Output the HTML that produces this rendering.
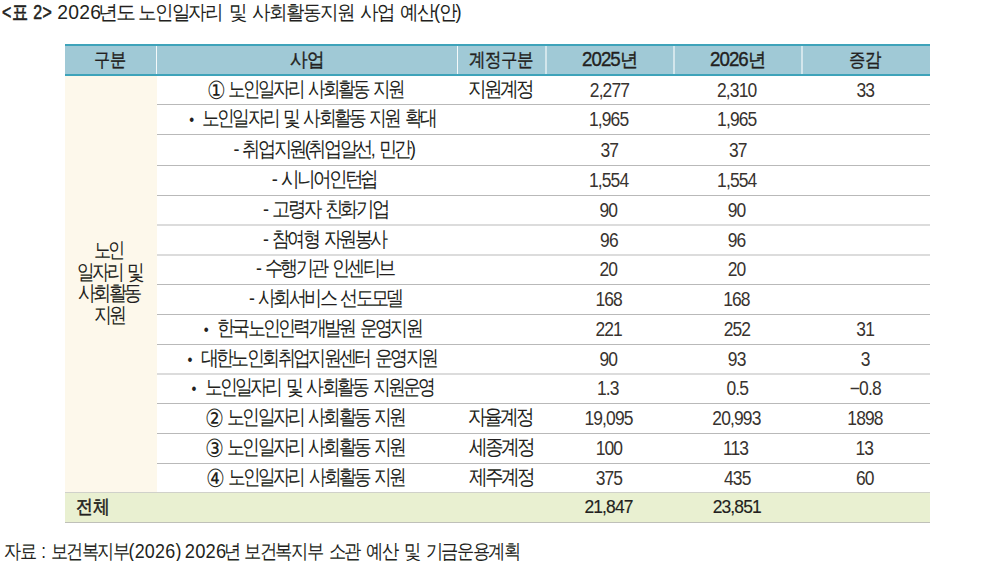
<!DOCTYPE html>
<html><head><meta charset="utf-8">
<style>
html,body{margin:0;padding:0;background:#fff;width:1000px;height:561px;overflow:hidden;position:relative;}
body{font-family:"Liberation Sans",sans-serif;color:#231f20;}
.a{position:absolute;}
.t{position:absolute;white-space:nowrap;height:30px;line-height:30px;}
.t span{display:inline-block;transform-origin:0 50%;letter-spacing:-0.9px;word-spacing:2px;}
.hl{position:absolute;height:1px;background:#b9b9b9;}
</style></head><body>

<div class="a" style="left:65px;top:44px;width:865px;height:32px;background:#a0c9d6"></div>
<div class="a" style="left:65px;top:44px;width:865px;height:2px;background:#3ea3ba"></div>
<div class="a" style="left:65px;top:74px;width:865px;height:2px;background:#3ea3ba"></div>
<div class="a" style="left:156px;top:46px;width:1px;height:28px;background:#f4f9fa"></div>
<div class="a" style="left:457px;top:46px;width:1px;height:28px;background:#f4f9fa"></div>
<div class="a" style="left:545px;top:46px;width:2px;height:28px;background:#d3e6ec"></div>
<div class="a" style="left:673px;top:46px;width:2px;height:28px;background:#d3e6ec"></div>
<div class="a" style="left:801px;top:46px;width:2px;height:28px;background:#d3e6ec"></div>
<div class="a" style="left:65px;top:76px;width:92px;height:416px;background:#fdf8eb"></div>
<div class="hl" style="left:157px;top:104px;width:773px;background:#b9b9b9"></div>
<div class="hl" style="left:157px;top:134px;width:773px;background:#b9b9b9"></div>
<div class="hl" style="left:157px;top:165px;width:773px;background:#b9b9b9"></div>
<div class="hl" style="left:157px;top:195px;width:773px;background:#b9b9b9"></div>
<div class="hl" style="left:157px;top:224px;width:773px;background:#dcdcdc"></div>
<div class="hl" style="left:157px;top:225px;width:773px;background:#dcdcdc"></div>
<div class="hl" style="left:157px;top:254px;width:773px;background:#dcdcdc"></div>
<div class="hl" style="left:157px;top:255px;width:773px;background:#dcdcdc"></div>
<div class="hl" style="left:157px;top:284px;width:773px;background:#b9b9b9"></div>
<div class="hl" style="left:157px;top:314px;width:773px;background:#b9b9b9"></div>
<div class="hl" style="left:157px;top:344px;width:773px;background:#b9b9b9"></div>
<div class="hl" style="left:157px;top:373px;width:773px;background:#dcdcdc"></div>
<div class="hl" style="left:157px;top:374px;width:773px;background:#dcdcdc"></div>
<div class="hl" style="left:157px;top:403px;width:773px;background:#b9b9b9"></div>
<div class="hl" style="left:157px;top:433px;width:773px;background:#b9b9b9"></div>
<div class="hl" style="left:157px;top:463px;width:773px;background:#b9b9b9"></div>
<div class="a" style="left:65px;top:492px;width:865px;height:31px;background:#e9f0d1"></div>
<div class="hl" style="left:65px;top:492px;width:865px;background:#d0d1ca"></div>
<div class="hl" style="left:65px;top:522px;width:865px;background:#bfc0b9"></div>
<div class="t" style="left:2.50px;top:-1.70px;font-size:19px"><span style="-webkit-text-stroke:0.55px #231f20;word-spacing:1px;letter-spacing:0.300px;transform:translateX(-0.96px) scale(0.8388,1.04)">&lt;표 2&gt;</span></div>
<div class="t" style="left:58.10px;top:-1.70px;font-size:19px"><span style="letter-spacing:0.200px;transform:translateX(-0.65px) scale(1.0155,1.04)">2026</span></div>
<div class="t" style="left:101.30px;top:-1.70px;font-size:19px"><span style="word-spacing:3px;letter-spacing:-1.500px;transform:translateX(-3.10px) scale(1.0425,1.04)">년도</span></div>
<div class="t" style="left:139.70px;top:-1.70px;font-size:19px"><span style="word-spacing:3px;letter-spacing:-1.500px;transform:translateX(-2.13px) scale(0.9641,1.04)">노인일자리 및 사회활동지원 사업 예산(안)</span></div>
<div class="t" style="left:95.30px;top:44.50px;font-size:18px"><span style="-webkit-text-stroke:0.35px #231f20;letter-spacing:-0.900px;transform:translateX(-0.84px) scale(0.9193,1.08)">구분</span></div>
<div class="t" style="left:290.90px;top:44.50px;font-size:18px"><span style="-webkit-text-stroke:0.35px #231f20;letter-spacing:-0.900px;transform:translateX(-1.47px) scale(1.0037,1.08)">사업</span></div>
<div class="t" style="left:470.10px;top:44.50px;font-size:18px"><span style="-webkit-text-stroke:0.35px #231f20;letter-spacing:-0.900px;transform:translateX(-0.55px) scale(0.9362,1.08)">계정구분</span></div>
<div class="t" style="left:583.00px;top:44.50px;font-size:18px"><span style="-webkit-text-stroke:0.35px #231f20;letter-spacing:-0.900px;transform:translateX(-1.04px) scale(1.0392,1.08)">2025년</span></div>
<div class="t" style="left:711.00px;top:44.50px;font-size:18px"><span style="-webkit-text-stroke:0.35px #231f20;letter-spacing:-0.900px;transform:translateX(-1.04px) scale(1.0392,1.08)">2026년</span></div>
<div class="t" style="left:850.00px;top:44.50px;font-size:18px"><span style="-webkit-text-stroke:0.35px #231f20;letter-spacing:-0.900px;transform:translateX(-0.93px) scale(0.9314,1.08)">증감</span></div>
<div class="t" style="left:208.40px;top:73.75px;font-size:20px"><span style="word-spacing:3px;letter-spacing:-2.600px;transform:translateX(-1.44px) scale(0.8602,1.03)"><i style='font-style:normal;font-size:24px;vertical-align:-3px'>①</i> 노인일자리 사회활동 지원</span></div>
<div class="t" style="left:190.00px;top:103.00px;font-size:20px"><span style="word-spacing:3px;letter-spacing:-2.600px;transform:translateX(-0.87px) scale(0.8704,1.03)"><small style='font-size:16px;vertical-align:0px'>•</small>&nbsp;&nbsp;노인일자리 및 사회활동 지원 확대</span></div>
<div class="t" style="left:234.60px;top:133.50px;font-size:20px"><span style="word-spacing:3px;letter-spacing:-2.600px;transform:translateX(-1.47px) scale(0.8952,1.03)">- 취업지원(취업알선, 민간)</span></div>
<div class="t" style="left:272.40px;top:164.00px;font-size:20px"><span style="word-spacing:3px;letter-spacing:-2.600px;transform:translateX(-0.31px) scale(0.9147,1.03)">- 시니어인턴쉽</span></div>
<div class="t" style="left:264.00px;top:193.75px;font-size:20px"><span style="word-spacing:3px;letter-spacing:-2.600px;transform:translateX(-0.90px) scale(0.9031,1.03)">- 고령자 친화기업</span></div>
<div class="t" style="left:264.00px;top:223.50px;font-size:20px"><span style="word-spacing:3px;letter-spacing:-2.600px;transform:translateX(-0.89px) scale(0.8888,1.03)">- 참여형 자원봉사</span></div>
<div class="t" style="left:257.00px;top:253.25px;font-size:20px"><span style="word-spacing:3px;letter-spacing:-2.600px;transform:translateX(-0.89px) scale(0.8871,1.03)">- 수행기관 인센티브</span></div>
<div class="t" style="left:250.00px;top:283.00px;font-size:20px"><span style="word-spacing:3px;letter-spacing:-2.600px;transform:translateX(-0.88px) scale(0.8847,1.03)">- 사회서비스 선도모델</span></div>
<div class="t" style="left:205.20px;top:313.00px;font-size:20px"><span style="word-spacing:3px;letter-spacing:-2.600px;transform:translateX(-1.14px) scale(0.8788,1.03)"><small style='font-size:16px;vertical-align:0px'>•</small>&nbsp;&nbsp;한국노인인력개발원 운영지원</span></div>
<div class="t" style="left:188.40px;top:342.75px;font-size:20px"><span style="word-spacing:3px;letter-spacing:-2.600px;transform:translateX(-0.40px) scale(0.8823,1.03)"><small style='font-size:16px;vertical-align:0px'>•</small>&nbsp;&nbsp;대한노인회취업지원센터 운영지원</span></div>
<div class="t" style="left:192.60px;top:372.25px;font-size:20px"><span style="word-spacing:3px;letter-spacing:-2.600px;transform:translateX(-1.51px) scale(0.8755,1.03)"><small style='font-size:16px;vertical-align:0px'>•</small>&nbsp;&nbsp;노인일자리 및 사회활동 지원운영</span></div>
<div class="t" style="left:208.00px;top:402.00px;font-size:20px"><span style="word-spacing:3px;letter-spacing:-2.600px;transform:translateX(-2.94px) scale(0.8718,1.03)"><i style='font-style:normal;font-size:24px;vertical-align:-3px'>②</i> 노인일자리 사회활동 지원</span></div>
<div class="t" style="left:208.00px;top:432.00px;font-size:20px"><span style="word-spacing:3px;letter-spacing:-2.600px;transform:translateX(-2.94px) scale(0.8719,1.03)"><i style='font-style:normal;font-size:24px;vertical-align:-3px'>③</i> 노인일자리 사회활동 지원</span></div>
<div class="t" style="left:208.00px;top:461.50px;font-size:20px"><span style="word-spacing:3px;letter-spacing:-2.600px;transform:translateX(-1.89px) scale(0.8672,1.03)"><i style='font-style:normal;font-size:24px;vertical-align:-3px'>④</i> 노인일자리 사회활동 지원</span></div>
<div class="t" style="left:470.20px;top:73.75px;font-size:20px"><span style="word-spacing:3px;letter-spacing:-2.600px;transform:translateX(-2.13px) scale(0.9132,1.03)">지원계정</span></div>
<div class="t" style="left:470.20px;top:402.00px;font-size:20px"><span style="word-spacing:3px;letter-spacing:-2.600px;transform:translateX(-2.13px) scale(0.9132,1.03)">자율계정</span></div>
<div class="t" style="left:470.20px;top:432.00px;font-size:20px"><span style="word-spacing:3px;letter-spacing:-2.600px;transform:translateX(-1.17px) scale(0.9157,1.03)">세종계정</span></div>
<div class="t" style="left:470.20px;top:461.50px;font-size:20px"><span style="word-spacing:3px;letter-spacing:-2.600px;transform:translateX(-1.17px) scale(0.9157,1.03)">제주계정</span></div>
<div class="t" style="left:590.80px;top:75.75px;font-size:18px"><span style="color:#38332f;letter-spacing:-0.900px;transform:translateX(-1.20px) scale(0.9700,1.08)">2,277</span></div>
<div class="t" style="left:718.50px;top:75.75px;font-size:18px"><span style="color:#38332f;letter-spacing:-0.900px;transform:translateX(-2.00px) scale(0.9700,1.08)">2,310</span></div>
<div class="t" style="left:856.50px;top:75.75px;font-size:18px"><span style="color:#38332f;letter-spacing:-0.900px;transform:translateX(-0.50px) scale(0.9700,1.08)">33</span></div>
<div class="t" style="left:591.30px;top:105.00px;font-size:18px"><span style="color:#38332f;letter-spacing:-0.900px;transform:translateX(-2.10px) scale(0.9700,1.08)">1,965</span></div>
<div class="t" style="left:719.60px;top:105.00px;font-size:18px"><span style="color:#38332f;letter-spacing:-0.900px;transform:translateX(-2.90px) scale(0.9700,1.08)">1,965</span></div>
<div class="t" style="left:601.70px;top:135.50px;font-size:18px"><span style="color:#38332f;letter-spacing:-0.900px;transform:translateX(-1.50px) scale(0.9700,1.08)">37</span></div>
<div class="t" style="left:730.30px;top:135.50px;font-size:18px"><span style="color:#38332f;letter-spacing:-0.900px;transform:translateX(-1.00px) scale(0.9700,1.08)">37</span></div>
<div class="t" style="left:591.30px;top:166.00px;font-size:18px"><span style="color:#38332f;letter-spacing:-0.900px;transform:translateX(-2.10px) scale(0.9700,1.08)">1,554</span></div>
<div class="t" style="left:719.60px;top:166.00px;font-size:18px"><span style="color:#38332f;letter-spacing:-0.900px;transform:translateX(-2.90px) scale(0.9700,1.08)">1,554</span></div>
<div class="t" style="left:599.80px;top:195.75px;font-size:18px"><span style="color:#38332f;letter-spacing:-0.900px;transform:translateX(-0.50px) scale(0.9700,1.08)">90</span></div>
<div class="t" style="left:727.60px;top:195.75px;font-size:18px"><span style="color:#38332f;letter-spacing:-0.900px;transform:translateX(-0.30px) scale(0.9700,1.08)">90</span></div>
<div class="t" style="left:599.80px;top:225.50px;font-size:18px"><span style="color:#38332f;letter-spacing:-0.900px;transform:translateX(0.10px) scale(0.9700,1.08)">96</span></div>
<div class="t" style="left:727.60px;top:225.50px;font-size:18px"><span style="color:#38332f;letter-spacing:-0.900px;transform:translateX(-0.30px) scale(0.9700,1.08)">96</span></div>
<div class="t" style="left:599.80px;top:255.25px;font-size:18px"><span style="color:#38332f;letter-spacing:-0.900px;transform:translateX(-0.50px) scale(0.9700,1.08)">20</span></div>
<div class="t" style="left:727.60px;top:255.25px;font-size:18px"><span style="color:#38332f;letter-spacing:-0.900px;transform:translateX(-0.30px) scale(0.9700,1.08)">20</span></div>
<div class="t" style="left:596.70px;top:285.00px;font-size:18px"><span style="color:#38332f;letter-spacing:-0.900px;transform:translateX(-1.60px) scale(0.9700,1.08)">168</span></div>
<div class="t" style="left:724.60px;top:285.00px;font-size:18px"><span style="color:#38332f;letter-spacing:-0.900px;transform:translateX(-1.80px) scale(0.9700,1.08)">168</span></div>
<div class="t" style="left:597.80px;top:315.00px;font-size:18px"><span style="color:#38332f;letter-spacing:-0.900px;transform:translateX(-2.60px) scale(0.9700,1.08)">221</span></div>
<div class="t" style="left:724.60px;top:315.00px;font-size:18px"><span style="color:#38332f;letter-spacing:-0.900px;transform:translateX(-1.30px) scale(0.9700,1.08)">252</span></div>
<div class="t" style="left:859.00px;top:315.00px;font-size:18px"><span style="color:#38332f;letter-spacing:-0.900px;transform:translateX(-2.70px) scale(0.9700,1.08)">31</span></div>
<div class="t" style="left:599.80px;top:344.75px;font-size:18px"><span style="color:#38332f;letter-spacing:-0.900px;transform:translateX(-0.50px) scale(0.9700,1.08)">90</span></div>
<div class="t" style="left:728.40px;top:344.75px;font-size:18px"><span style="color:#38332f;letter-spacing:-0.900px;transform:translateX(-0.20px) scale(0.9700,1.08)">93</span></div>
<div class="t" style="left:860.90px;top:344.75px;font-size:18px"><span style="color:#38332f;letter-spacing:-0.900px;transform:translateX(-0.20px) scale(0.9700,1.08)">3</span></div>
<div class="t" style="left:599.80px;top:374.25px;font-size:18px"><span style="color:#38332f;letter-spacing:-0.900px;transform:translateX(-3.00px) scale(0.9700,1.08)">1.3</span></div>
<div class="t" style="left:727.60px;top:374.25px;font-size:18px"><span style="color:#38332f;letter-spacing:-0.900px;transform:translateX(-1.60px) scale(0.9700,1.08)">0.5</span></div>
<div class="t" style="left:850.00px;top:374.25px;font-size:18px"><span style="color:#38332f;letter-spacing:-0.900px;transform:translateX(-0.20px) scale(0.9700,1.08)">−0.8</span></div>
<div class="t" style="left:585.70px;top:404.00px;font-size:18px"><span style="color:#38332f;letter-spacing:-0.900px;transform:translateX(-1.60px) scale(0.9700,1.08)">19,095</span></div>
<div class="t" style="left:712.40px;top:404.00px;font-size:18px"><span style="color:#38332f;letter-spacing:-0.900px;transform:translateX(0.30px) scale(0.9700,1.08)">20,993</span></div>
<div class="t" style="left:848.70px;top:404.00px;font-size:18px"><span style="color:#38332f;letter-spacing:-0.900px;transform:translateX(-1.70px) scale(0.9700,1.08)">1898</span></div>
<div class="t" style="left:596.50px;top:434.00px;font-size:18px"><span style="color:#38332f;letter-spacing:-0.900px;transform:translateX(-1.30px) scale(0.9700,1.08)">100</span></div>
<div class="t" style="left:724.30px;top:434.00px;font-size:18px"><span style="color:#38332f;letter-spacing:-0.900px;transform:translateX(-1.10px) scale(0.9700,1.08)">113</span></div>
<div class="t" style="left:857.60px;top:434.00px;font-size:18px"><span style="color:#38332f;letter-spacing:-0.900px;transform:translateX(-2.60px) scale(0.9700,1.08)">13</span></div>
<div class="t" style="left:596.50px;top:463.50px;font-size:18px"><span style="color:#38332f;letter-spacing:-0.900px;transform:translateX(-1.30px) scale(0.9700,1.08)">375</span></div>
<div class="t" style="left:725.70px;top:463.50px;font-size:18px"><span style="color:#38332f;letter-spacing:-0.900px;transform:translateX(-2.00px) scale(0.9700,1.08)">435</span></div>
<div class="t" style="left:856.00px;top:463.50px;font-size:18px"><span style="color:#38332f;letter-spacing:-0.900px;transform:translateX(-0.10px) scale(0.9700,1.08)">60</span></div>
<div class="t" style="left:95.40px;top:235.00px;font-size:20px"><span style="word-spacing:3px;letter-spacing:-2.600px;transform:translateX(-1.23px) scale(0.8440,1.03)">노인</span></div>
<div class="t" style="left:78.70px;top:256.60px;font-size:20px"><span style="word-spacing:3px;letter-spacing:-2.600px;transform:translateX(-1.96px) scale(0.8655,1.03)">일자리 및</span></div>
<div class="t" style="left:78.70px;top:278.20px;font-size:20px"><span style="word-spacing:3px;letter-spacing:-2.600px;transform:translateX(-1.14px) scale(0.8928,1.03)">사회활동</span></div>
<div class="t" style="left:95.40px;top:300.20px;font-size:20px"><span style="word-spacing:3px;letter-spacing:-2.600px;transform:translateX(-1.43px) scale(0.8819,1.03)">지원</span></div>
<div class="t" style="left:77.60px;top:492.20px;font-size:18px"><span style="-webkit-text-stroke:0.5px #231f20;letter-spacing:-0.900px;transform:translateX(-1.71px) scale(0.9600,1.08)">전체</span></div>
<div class="t" style="left:585.70px;top:491.70px;font-size:18px"><span style="-webkit-text-stroke:0.15px #231f20;letter-spacing:-0.900px;transform:translateX(-1.60px) scale(0.9700,1.04)">21,847</span></div>
<div class="t" style="left:714.80px;top:491.70px;font-size:18px"><span style="-webkit-text-stroke:0.15px #231f20;letter-spacing:-0.900px;transform:translateX(-2.30px) scale(0.9700,1.04)">23,851</span></div>
<div class="t" style="left:4.70px;top:536.70px;font-size:19px"><span style="word-spacing:3px;letter-spacing:-1.500px;transform:translateX(-1.07px) scale(0.8907,1.04)">자료 : 보건복지부</span></div>
<div class="t" style="left:130.40px;top:536.70px;font-size:19px"><span style="letter-spacing:0.200px;transform:translateX(-1.47px) scale(0.9447,1.04)">(2026)</span></div>
<div class="t" style="left:186.20px;top:536.70px;font-size:19px"><span style="letter-spacing:0.200px;transform:translateX(-1.26px) scale(0.9665,1.04)">2026</span></div>
<div class="t" style="left:226.50px;top:536.70px;font-size:19px"><span style="word-spacing:3px;letter-spacing:-1.500px;transform:translateX(-2.66px) scale(0.8926,1.04)">년</span></div>
<div class="t" style="left:245.70px;top:536.70px;font-size:19px"><span style="word-spacing:3px;letter-spacing:-1.500px;transform:translateX(-1.97px) scale(0.8980,1.04)">보건복지부 소관 예산 및 기금운용계획</span></div>
</body></html>
